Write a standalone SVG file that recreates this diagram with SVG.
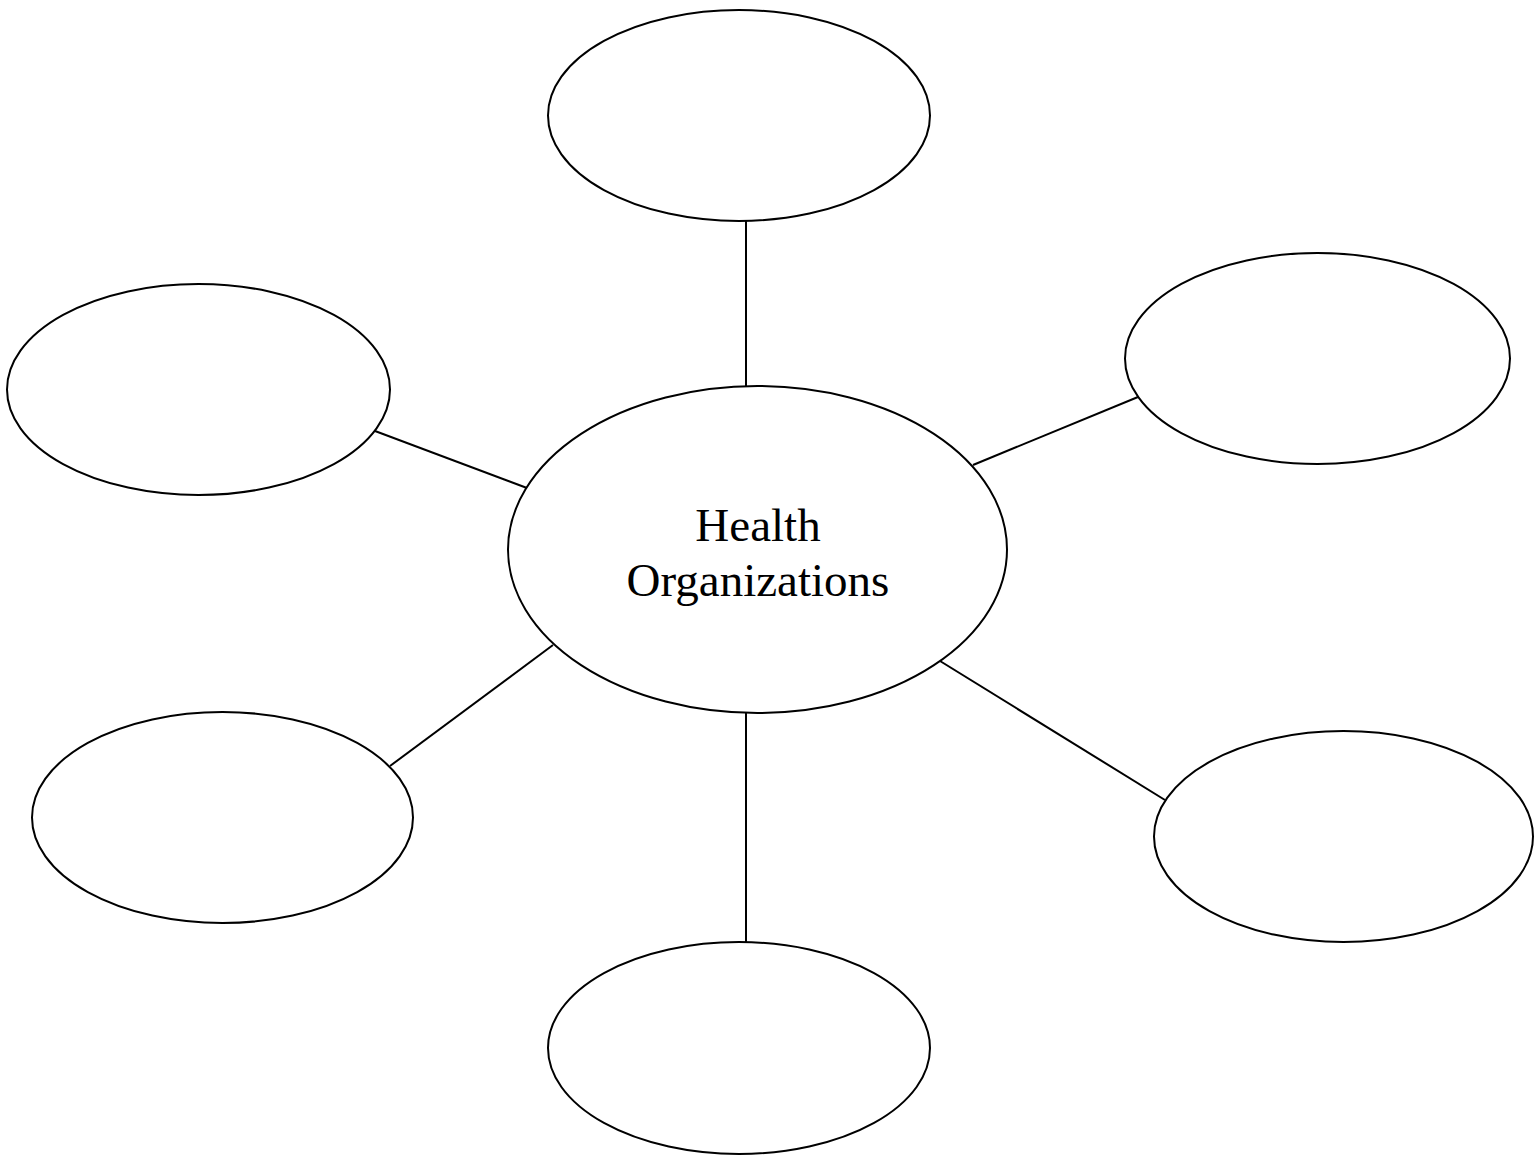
<svg xmlns="http://www.w3.org/2000/svg" width="1534" height="1155" viewBox="0 0 1534 1155">
<style>
.n{fill:#fff;stroke:#000;stroke-width:2}
.c line{stroke:#000;stroke-width:2}
.t{font-family:"Liberation Serif","Times New Roman",serif;font-size:47px;fill:#000;text-anchor:middle}
</style>
<rect width="1534" height="1155" fill="#fff"/>
<g id="connectors" class="c">
<line x1="746" y1="221" x2="746" y2="387"/>
<line x1="375" y1="431" x2="527" y2="488"/>
<line x1="973" y1="465" x2="1138" y2="397"/>
<line x1="553" y1="645" x2="390" y2="766"/>
<line x1="746" y1="713" x2="746" y2="943"/>
<line x1="940" y1="661" x2="1165" y2="800"/>
</g>
<g id="center"><ellipse class="n" cx="757.5" cy="549.5" rx="249.5" ry="163.5"/>
<text class="t" x="758" y="541">Health</text>
<text class="t" x="758" y="596">Organizations</text></g>
<g id="top"><ellipse class="n" cx="739" cy="115.5" rx="191" ry="105.5"/></g>
<g id="right-top"><ellipse class="n" cx="1317.5" cy="358.5" rx="192.5" ry="105.5"/></g>
<g id="left-top"><ellipse class="n" cx="198.5" cy="389.5" rx="191.5" ry="105.5"/></g>
<g id="left-bottom"><ellipse class="n" cx="222.5" cy="817.5" rx="190.5" ry="105.5"/></g>
<g id="bottom"><ellipse class="n" cx="739" cy="1048" rx="191" ry="106"/></g>
<g id="right-bottom"><ellipse class="n" cx="1343.5" cy="836.5" rx="189.5" ry="105.5"/></g>
</svg>
